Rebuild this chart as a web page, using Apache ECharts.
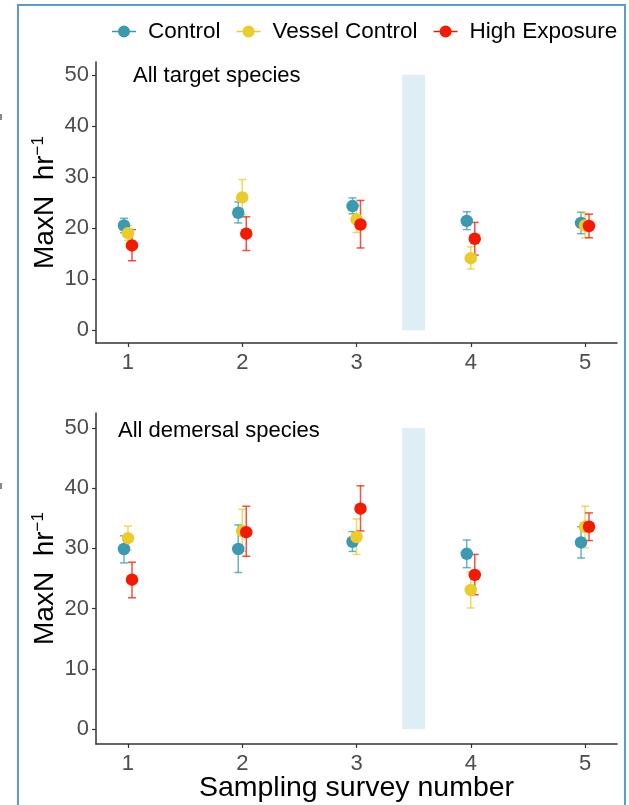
<!DOCTYPE html>
<html>
<head>
<meta charset="utf-8">
<script src="https://cdn.jsdelivr.net/npm/echarts@6/dist/echarts.min.js"></script>
<style>
  html, body { margin: 0; padding: 0; background: #fff; }
  #chart { width: 629px; height: 805px; }
</style>
</head>
<body>
<div id="chart"></div>
<script>
// Survey numbers and treatment groups
const surveys = [1, 2, 3, 4, 5];
const groupNames = ['Control', 'Vessel Control', 'High Exposure'];
const yTicks = [0, 10, 20, 30, 40, 50];
const panelTitles = ['All target species', 'All demersal species'];

// Shaded block between surveys 3 and 4 (x span, y span)
const gapX = [3.4, 3.6];
const gapY = [0, 50];

// All target species: mean MaxN per hour and error-bar limits, rows = groups
const targetMean  = [[20.5, 23.0, 24.3, 21.4, 21.0], [19.0, 26.0, 21.7, 14.1, 20.5], [16.6, 18.9, 20.7, 17.9, 20.4]];
const targetLower = [[19.1, 21.0, 22.8, 19.7, 18.9], [17.6, 22.6, 19.1, 12.0, 18.1], [13.6, 15.6, 16.1, 14.7, 18.1]];
const targetUpper = [[21.9, 25.1, 25.9, 23.2, 23.1], [20.5, 29.5, 24.4, 16.3, 22.9], [19.7, 22.2, 25.4, 21.1, 22.7]];

// All demersal species
const demersalMean  = [[29.9, 29.9, 31.1, 29.1, 31.0], [31.7, 32.9, 31.9, 23.1, 33.6], [24.8, 32.7, 36.6, 25.6, 33.6]];
const demersalLower = [[27.6, 26.0, 29.5, 26.8, 28.4], [29.7, 29.5, 29.0, 20.1, 30.1], [21.8, 28.7, 32.9, 22.3, 31.3]];
const demersalUpper = [[32.1, 33.9, 32.8, 31.4, 33.6], [33.7, 36.5, 34.9, 26.1, 37.0], [27.7, 37.0, 40.4, 29.0, 35.9]];

const panels = [
  { mean: targetMean, lower: targetLower, upper: targetUpper },
  { mean: demersalMean, lower: demersalLower, upper: demersalUpper }
];

const colors = ['#3B9AB2', '#EBCC2A', '#F21A00'];
const dodge = [-0.035, 0, 0.035];
const axisColor = '#333333';
const labelColor = '#4D4D4D';
const fontFamily = '"Liberation Sans", Arial, sans-serif';

const grids = [
  { left: 96, right: 12, top: 62, height: 281, outerBoundsMode: 'none' },
  { left: 96, right: 12, top: 413, height: 331, outerBoundsMode: 'none' }
];

function makeXAxis(i) {
  return {
    type: 'value', gridIndex: i, min: 0.72, max: 5.28,
    splitLine: { show: false },
    axisLine: { onZero: false, lineStyle: { color: axisColor, width: 1.5 } },
    axisTick: { customValues: surveys, length: 4, lineStyle: { color: axisColor, width: 1.2 } },
    axisLabel: { customValues: surveys, color: labelColor, fontSize: 22, margin: 9, fontFamily },
    name: i === 1 ? 'Sampling survey number' : '',
    nameLocation: 'middle', nameGap: 30, nameMoveOverlap: false,
    nameTextStyle: { color: '#000', fontSize: 28.5, fontFamily }
  };
}

function makeYAxis(i) {
  return {
    type: 'value', gridIndex: i, min: -2.5, max: 52.5,
    splitLine: { show: false },
    axisLine: { show: true, onZero: false, lineStyle: { color: axisColor, width: 1.5 } },
    axisTick: { show: true, customValues: yTicks, length: 4, lineStyle: { color: axisColor, width: 1.2 } },
    axisLabel: { customValues: yTicks, color: labelColor, fontSize: 22, margin: 7, fontFamily },
    name: '{a|MaxN  hr}{b|\u22121}',
    nameLocation: 'middle', nameRotate: 90, nameGap: 35, nameMoveOverlap: false,
    nameTextStyle: {
      rich: {
        a: { fontSize: 28, color: '#000', fontFamily },
        b: { fontSize: 17, color: '#000', fontFamily, verticalAlign: 'top', padding: [0, 0, 14, 0] }
      }
    }
  };
}

const series = [];

// Shaded block in each panel
panels.forEach((p, i) => {
  series.push({
    type: 'custom', xAxisIndex: i, yAxisIndex: i, silent: true, z: 1,
    data: [[gapX[0], gapX[1], gapY[0], gapY[1]]],
    renderItem(params, api) {
      const a = api.coord([api.value(0), api.value(3)]);
      const b = api.coord([api.value(1), api.value(2)]);
      return { type: 'rect', shape: { x: a[0], y: a[1], width: b[0] - a[0], height: b[1] - a[1] },
               style: { fill: '#DDEEF4' } };
    }
  });
});

// Error bars and points for each group
panels.forEach((p, i) => {
  groupNames.forEach((name, g) => {
    const color = colors[g];
    series.push({
      type: 'custom', name, xAxisIndex: i, yAxisIndex: i, silent: true, z: 2,
      itemStyle: { color },
      data: surveys.map((s, k) => [s + dodge[g], p.lower[g][k], p.upper[g][k]]),
      renderItem(params, api) {
        const x = api.value(0);
        const lo = api.coord([x, api.value(1)]);
        const hi = api.coord([x, api.value(2)]);
        const cap = 4;
        const st = { stroke: color, lineWidth: 1.5, opacity: 0.75 };
        return { type: 'group', children: [
          { type: 'line', shape: { x1: lo[0], y1: lo[1], x2: hi[0], y2: hi[1] }, style: st },
          { type: 'line', shape: { x1: lo[0] - cap, y1: lo[1], x2: lo[0] + cap, y2: lo[1] }, style: st },
          { type: 'line', shape: { x1: hi[0] - cap, y1: hi[1], x2: hi[0] + cap, y2: hi[1] }, style: st }
        ]};
      }
    });
    series.push({
      type: 'scatter', name, xAxisIndex: i, yAxisIndex: i, z: 2,
      symbol: 'circle', symbolSize: 12.5,
      itemStyle: { color, opacity: 1 },
      data: surveys.map((s, k) => [s + dodge[g], p.mean[g][k]])
    });
  });
});

const legendIcon = 'path://M0,5.3 L24,5.3 L24,6.7 L0,6.7 Z M6,6 A6,6 0 1,1 18,6 A6,6 0 1,1 6,6 Z';

const chart = echarts.init(document.getElementById('chart'), null, { renderer: 'canvas' });
chart.setOption({
  backgroundColor: '#fff',
  animation: false,
  textStyle: { fontFamily },
  grid: grids,
  xAxis: [makeXAxis(0), makeXAxis(1)],
  yAxis: [makeYAxis(0), makeYAxis(1)],
  legend: {
    data: groupNames.map((n, g) => ({ name: n, icon: legendIcon, itemStyle: { color: colors[g] } })),
    left: 107, top: 15, itemWidth: 24, itemHeight: 12, itemGap: 16,
    textStyle: { color: '#000', fontSize: 22.5, fontFamily, padding: [0, 0, 0, 7] }
  },
  graphic: [
    { type: 'rect', shape: { x: 18, y: 5, width: 607, height: 900 },
      style: { fill: 'none', stroke: '#5B9BD5', lineWidth: 2 }, silent: true },
    { type: 'text', x: 133, y: 76, style: { text: panelTitles[0], fontSize: 22, fill: '#000', fontFamily, verticalAlign: 'middle' } },
    { type: 'text', x: 118, y: 431, style: { text: panelTitles[1], fontSize: 22, fill: '#000', fontFamily, verticalAlign: 'middle' } },
    { type: 'rect', shape: { x: 0, y: 114, width: 2, height: 6 }, style: { fill: '#888' }, silent: true },
    { type: 'rect', shape: { x: 0, y: 483, width: 2, height: 6 }, style: { fill: '#888' }, silent: true }
  ],
  series
});
</script>
</body>
</html>
